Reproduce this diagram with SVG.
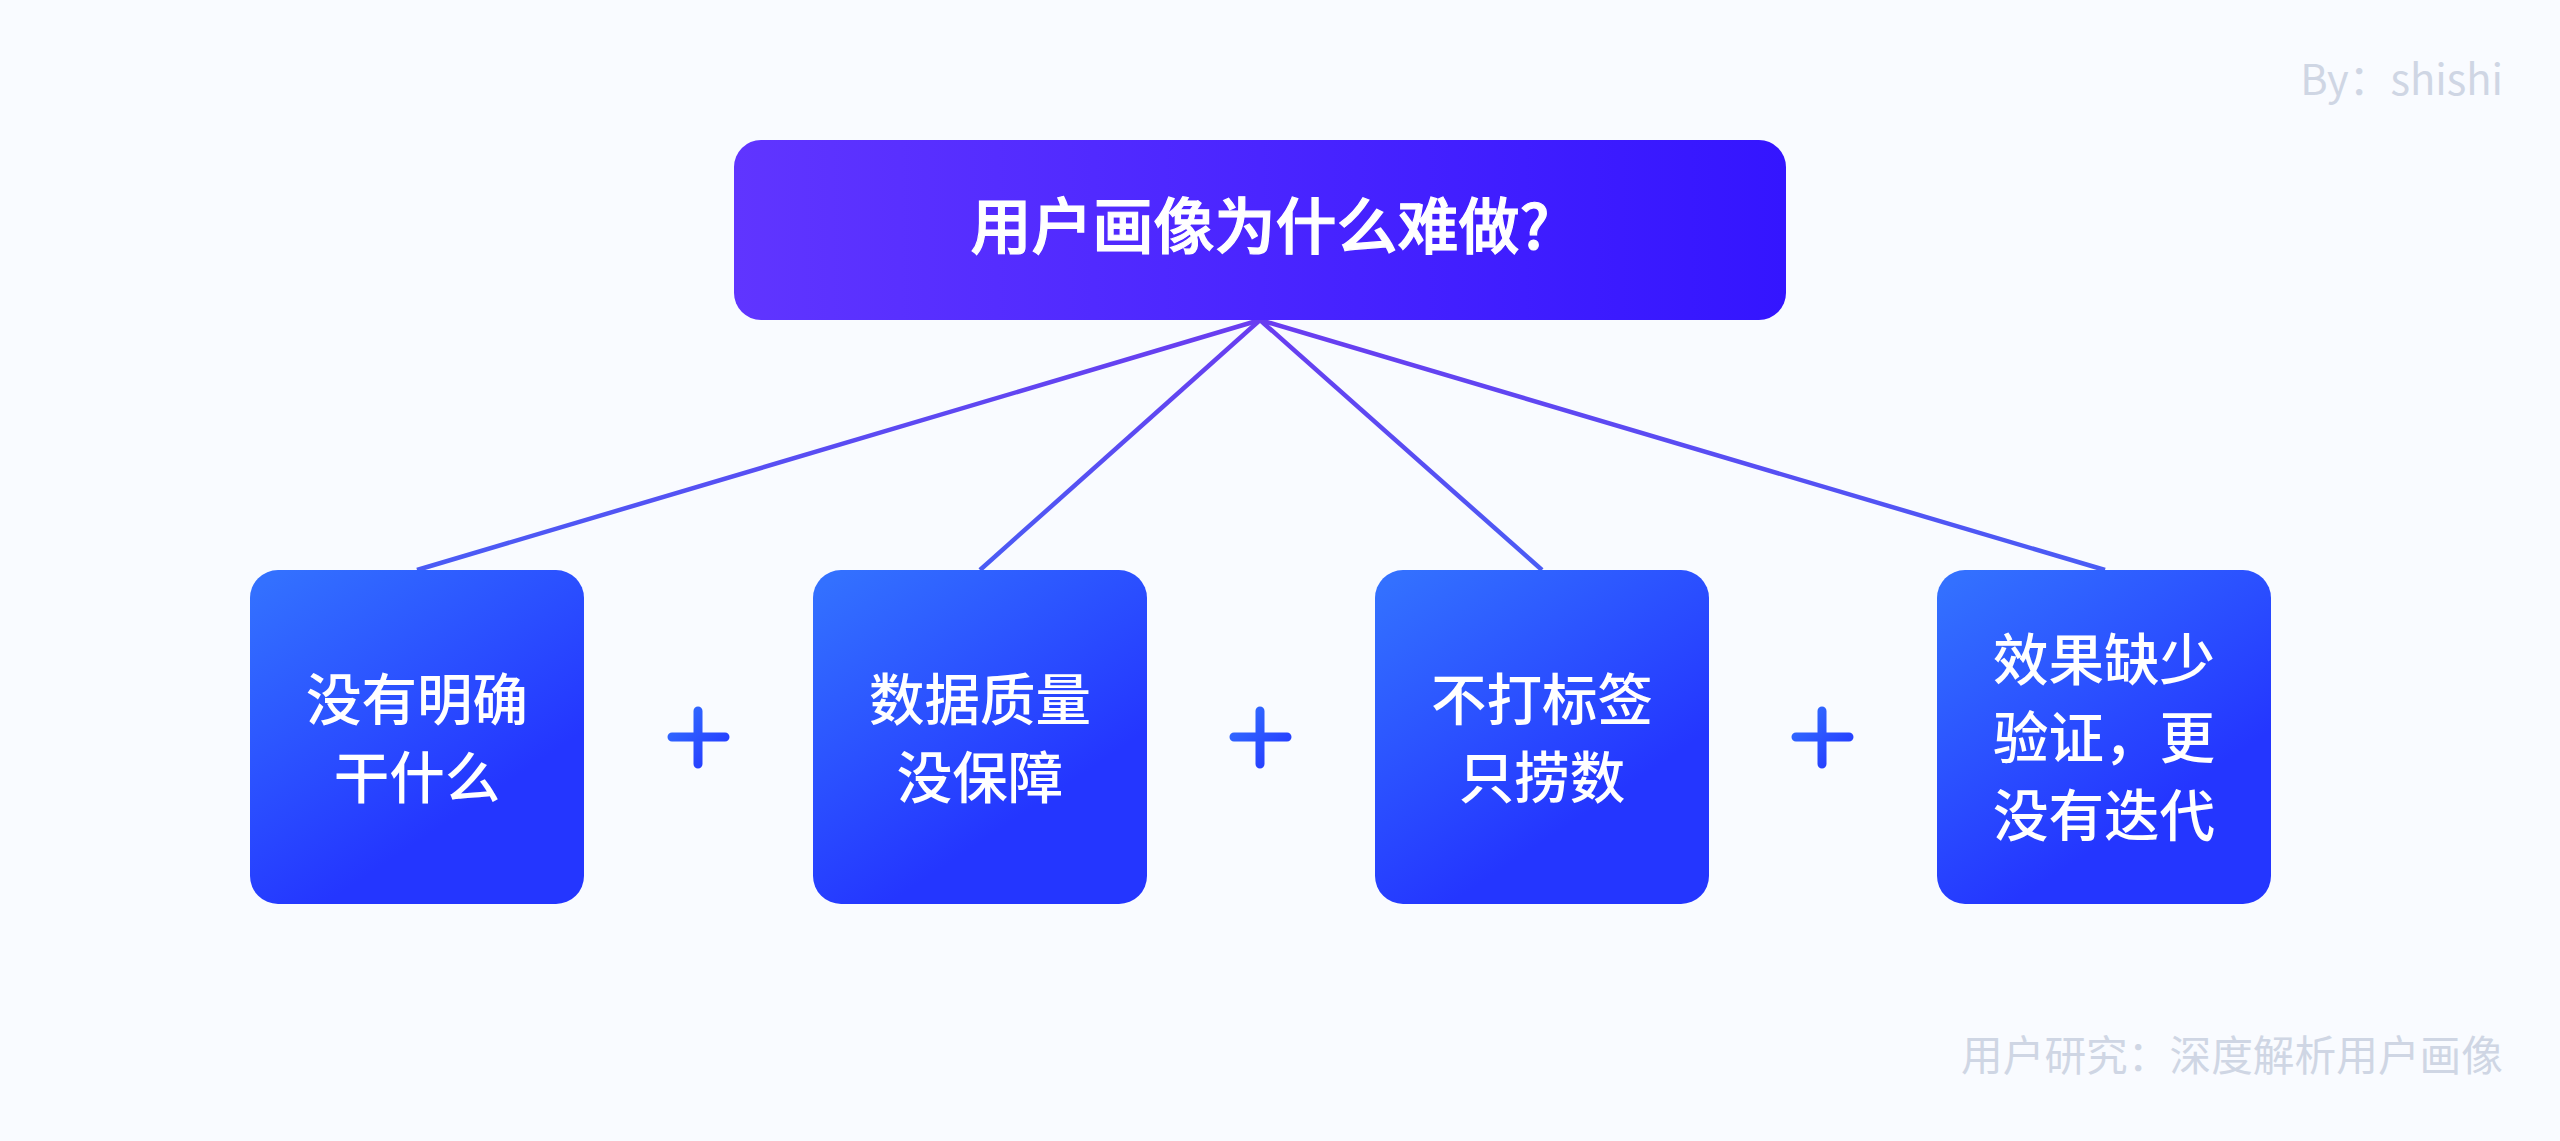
<svg xmlns="http://www.w3.org/2000/svg" width="2560" height="1141" viewBox="0 0 2560 1141">
<defs>
<linearGradient id="gTop" x1="0" y1="0" x2="1" y2="0"><stop offset="0" stop-color="#6035FF"/><stop offset="1" stop-color="#3415FF"/></linearGradient>
<linearGradient id="gBox" x1="0.1" y1="0" x2="0.6" y2="0.75"><stop offset="0" stop-color="#3370FF"/><stop offset="1" stop-color="#2436FF"/></linearGradient>
<linearGradient id="gPlus" x1="0" y1="0" x2="1" y2="1"><stop offset="0" stop-color="#3370FF"/><stop offset="1" stop-color="#2436FF"/></linearGradient>
<linearGradient id="gL1" gradientUnits="userSpaceOnUse" x1="1260" y1="320" x2="417" y2="570"><stop offset="0" stop-color="#6A3CF0"/><stop offset="1" stop-color="#4A5CF5"/></linearGradient>
<linearGradient id="gL2" gradientUnits="userSpaceOnUse" x1="1260" y1="320" x2="980" y2="570"><stop offset="0" stop-color="#6A3CF0"/><stop offset="1" stop-color="#4A5CF5"/></linearGradient>
<linearGradient id="gL3" gradientUnits="userSpaceOnUse" x1="1260" y1="320" x2="1542" y2="570"><stop offset="0" stop-color="#6A3CF0"/><stop offset="1" stop-color="#4A5CF5"/></linearGradient>
<linearGradient id="gL4" gradientUnits="userSpaceOnUse" x1="1260" y1="320" x2="2105" y2="570"><stop offset="0" stop-color="#6A3CF0"/><stop offset="1" stop-color="#4A5CF5"/></linearGradient>
</defs>
<style>
text{font-family:"Noto Sans CJK SC","Noto Sans",sans-serif}
.t{fill:#fff;font-size:55.5px;font-weight:500;text-anchor:middle}
.h{fill:#fff;stroke:#fff;stroke-width:1.2px;font-size:61px;font-weight:500;text-anchor:middle}
.w{fill:#CFD6E4;font-size:41.7px;text-anchor:end}
.b{fill:url(#gBox)}
.l{fill:none;stroke-width:4.5}
.p{stroke:url(#gPlus);fill:none;stroke-width:9;stroke-linecap:round}
</style>
<rect width="2560" height="1141" fill="#F9FBFF"/>
<g id="connectors">
<line class="l" stroke="url(#gL1)" x1="1260" y1="320" x2="417" y2="570"/>
<line class="l" stroke="url(#gL2)" x1="1260" y1="320" x2="980" y2="570"/>
<line class="l" stroke="url(#gL3)" x1="1260" y1="320" x2="1542" y2="570"/>
<line class="l" stroke="url(#gL4)" x1="1260" y1="320" x2="2105" y2="570"/>
</g>
<g id="node-top"><rect x="734" y="140" width="1052" height="180" rx="27" fill="url(#gTop)"/><text class="h" x="1260" y="249">用户画像为什么难做?</text></g>
<g id="node-1"><rect class="b" x="250" y="570" width="334" height="334" rx="28"/><text class="t" x="417" y="720">没有明确</text><text class="t" x="417" y="798">干什么</text></g>
<g id="node-2"><rect class="b" x="813" y="570" width="334" height="334" rx="28"/><text class="t" x="980" y="720">数据质量</text><text class="t" x="980" y="798">没保障</text></g>
<g id="node-3"><rect class="b" x="1375" y="570" width="334" height="334" rx="28"/><text class="t" x="1542" y="720">不打标签</text><text class="t" x="1542" y="798">只捞数</text></g>
<g id="node-4"><rect class="b" x="1937" y="570" width="334" height="334" rx="28"/><text class="t" x="2104" y="680">效果缺少</text><text class="t" x="2104" y="758">验证，更</text><text class="t" x="2104" y="836">没有迭代</text></g>
<g id="plus-1"><path class="p" d="M672 737H725M698 711V764"/></g>
<g id="plus-2"><path class="p" d="M1234 737H1287M1260 711V764"/></g>
<g id="plus-3"><path class="p" d="M1796 737H1849M1822 711V764"/></g>
<g id="watermarks"><text class="w" x="2503" y="95">By：shishi</text><text class="w" x="2503" y="1071">用户研究：深度解析用户画像</text></g>
</svg>
